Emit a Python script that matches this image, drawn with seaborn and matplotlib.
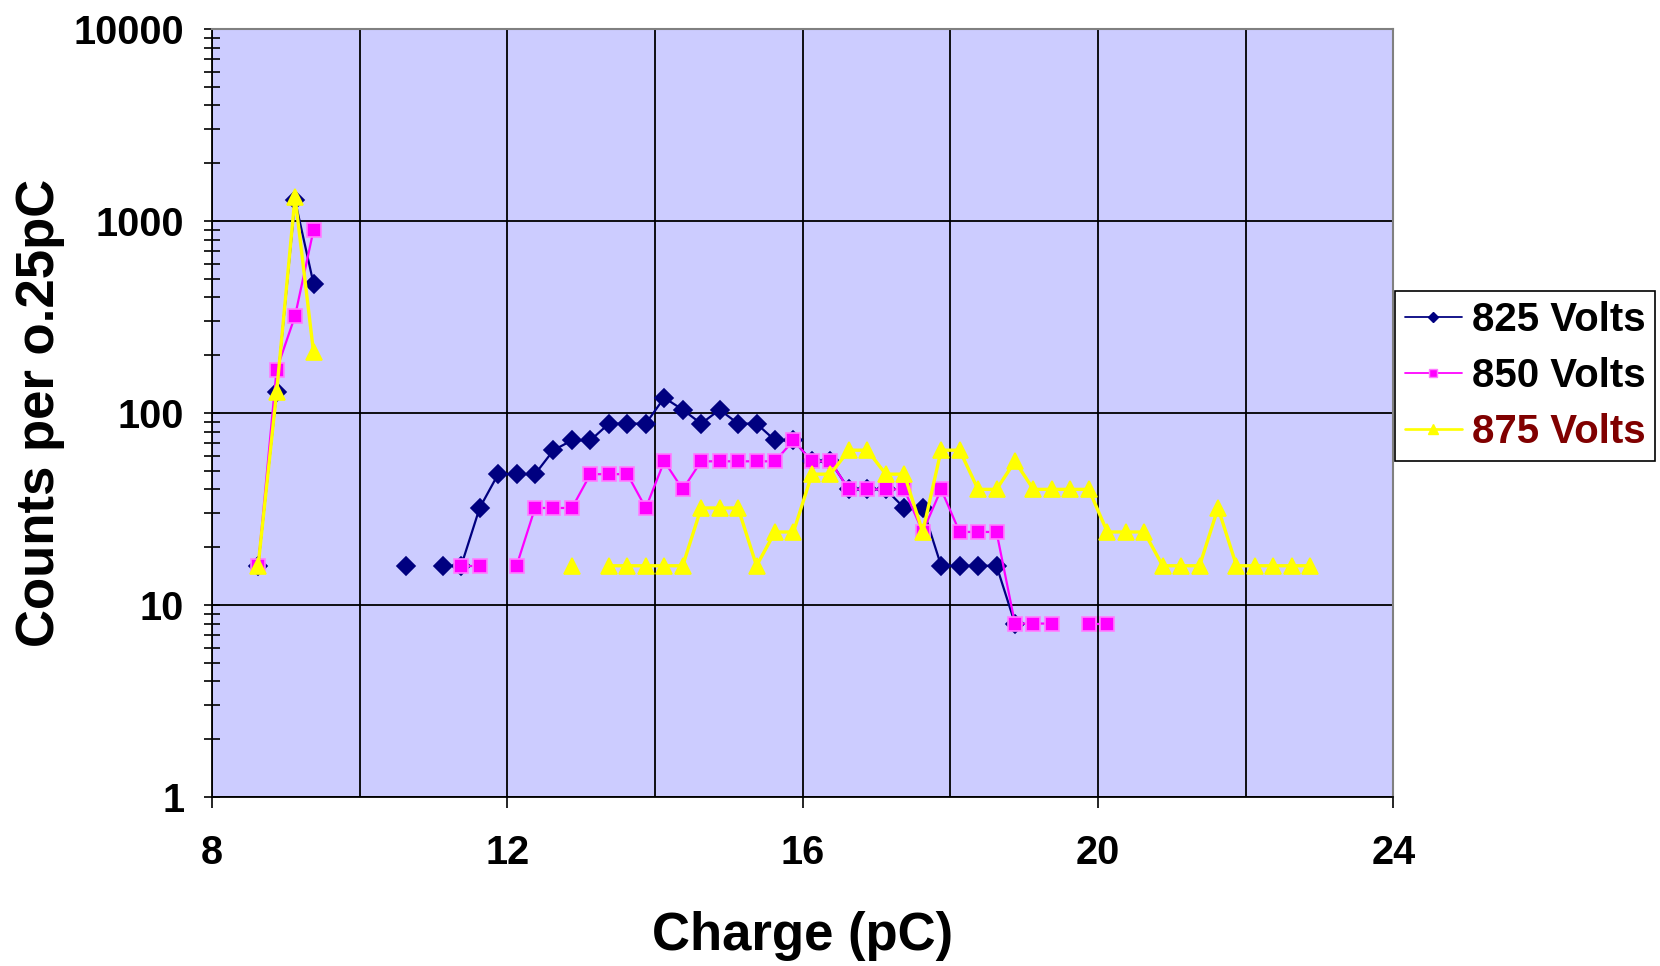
import numpy as np
import pandas as pd
import matplotlib
matplotlib.use('Agg')
import matplotlib.pyplot as plt
import seaborn as sns
from matplotlib.lines import Line2D
from matplotlib.ticker import FixedLocator, LogLocator, NullFormatter, FuncFormatter

# bin centres (pC), 0.25 pC bins
charge = [8.625, 8.875, 9.125, 9.375, 9.625, 9.875, 10.125, 10.375,
          10.625, 10.875, 11.125, 11.375, 11.625, 11.875, 12.125, 12.375,
          12.625, 12.875, 13.125, 13.375, 13.625, 13.875, 14.125, 14.375,
          14.625, 14.875, 15.125, 15.375, 15.625, 15.875, 16.125, 16.375,
          16.625, 16.875, 17.125, 17.375, 17.625, 17.875, 18.125, 18.375,
          18.625, 18.875, 19.125, 19.375, 19.625, 19.875, 20.125, 20.375,
          20.625, 20.875, 21.125, 21.375, 21.625, 21.875, 22.125, 22.375,
          22.625, 22.875]

# counts per bin, None = empty bin
counts_825 = [16, 128, 1280, 472, None, None, None, None,
              16, None, 16, 16, 32, 48, 48, 48,
              64, 72, 72, 88, 88, 88, 120, 104,
              88, 104, 88, 88, 72, 72, 56, 56,
              40, 40, 40, 32, 32, 16, 16, 16,
              16, 8, None, None, None, None, None, None,
              None, None, None, None, None, None, None, None,
              None, None]
counts_850 = [16, 168, 320, 896, None, None, None, None,
              None, None, None, 16, 16, None, 16, 32,
              32, 32, 48, 48, 48, 32, 56, 40,
              56, 56, 56, 56, 56, 72, 56, 56,
              40, 40, 40, 40, 24, 40, 24, 24,
              24, 8, 8, 8, None, 8, 8, None,
              None, None, None, None, None, None, None, None,
              None, None]
counts_875 = [16, 128, 1336, 208, None, None, None, None,
              None, None, None, None, None, None, None, None,
              None, 16, None, 16, 16, 16, 16, 16,
              32, 32, 32, 16, 24, 24, 48, 48,
              64, 64, 48, 48, 24, 64, 64, 40,
              40, 56, 40, 40, 40, 40, 24, 24,
              24, 16, 16, 16, 32, 16, 16, 16,
              16, 16]

series = ['825 Volts', '850 Volts', '875 Volts']
colors = ['#000080', '#FF00FF', '#FFFF00']
markers = ['D', 's', '^']
msizes = [9, 9.5, 11]
edges = ['#000080', '#FF7CFF', '#FFFF00']
lwidths = [1.6, 1.6, 2.4]


def to_frame(values):
    # split into contiguous runs so that empty bins break the line
    df = pd.DataFrame({'charge': charge, 'count': values})
    df['seg'] = df['count'].isnull().cumsum()
    return df.dropna()


sns.set_theme(style='ticks')
plt.rcParams['font.family'] = ['Liberation Sans', 'DejaVu Sans']
plt.rcParams['font.weight'] = 'bold'
plt.rcParams['text.color'] = 'black'
plt.rcParams['axes.labelcolor'] = 'black'
plt.rcParams['xtick.color'] = 'black'
plt.rcParams['ytick.color'] = 'black'

fig = plt.figure(figsize=(16.6, 9.66), dpi=100)
ax = fig.add_axes([0.1277, 0.175, 0.7117, 0.795])
ax.set_facecolor('#CCCCFF')

handles = []
for name, vals, c, m, ms, ec, lw in zip(series, [counts_825, counts_850, counts_875],
                                        colors, markers, msizes, edges, lwidths):
    df = to_frame(vals)
    sns.lineplot(data=df, x='charge', y='count', units='seg', estimator=None,
                 ax=ax, color=c, marker=m, markersize=ms, markeredgecolor=ec,
                 markeredgewidth=1.2, linewidth=lw, legend=False, zorder=3)
    handles.append(Line2D([0], [0], color=c, marker=m, markersize=ms * 0.6,
                          markeredgecolor=ec, linewidth=lw * 0.8, label=name))

ax.set_yscale('log')
ax.set_xlim(8, 24)
ax.set_ylim(1, 10000)

# axes ticks and grid
ax.xaxis.set_major_locator(FixedLocator([8, 12, 16, 20, 24]))
ax.xaxis.set_minor_locator(FixedLocator([10, 14, 18, 22]))
ax.yaxis.set_major_locator(LogLocator(base=10))
ax.yaxis.set_minor_locator(LogLocator(base=10, subs=np.arange(2, 10)))
ax.yaxis.set_major_formatter(FuncFormatter(lambda v, p: f'{v:g}'))
ax.yaxis.set_minor_formatter(NullFormatter())
ax.grid(True, which='major', axis='both', color='black', linewidth=1.3)
ax.grid(True, which='minor', axis='x', color='black', linewidth=1.3)
ax.set_axisbelow(True)

ax.tick_params(axis='both', which='both', direction='out', length=8, width=1.2,
               color='black', labelcolor='black', labelsize=28.5)
ax.tick_params(axis='y', which='both', direction='inout', length=12)
ax.tick_params(axis='x', which='minor', length=0)
ax.tick_params(axis='x', which='major', pad=19)
ax.tick_params(axis='y', which='major', pad=14)
for lab in ax.get_xticklabels() + ax.get_yticklabels():
    lab.set_fontweight('bold')

for side in ['left', 'bottom']:
    ax.spines[side].set_color('black')
    ax.spines[side].set_linewidth(1.3)
for side in ['top', 'right']:
    ax.spines[side].set_color('#808080')
    ax.spines[side].set_linewidth(1.5)

ax.set_xlabel('Charge (pC)', fontsize=38, fontweight='bold', labelpad=28, color='black')
ax.set_ylabel('Counts per o.25pC', fontsize=38, fontweight='bold', labelpad=6, color='black')

leg = ax.legend(handles=handles, loc='upper left', bbox_to_anchor=(1.0015, 0.659),
                borderaxespad=0, prop={'weight': 'bold', 'size': 29}, frameon=True,
                fancybox=False, edgecolor='black', framealpha=1, handlelength=1.4,
                handletextpad=0.25, labelspacing=0.45, borderpad=0.25)
leg.get_frame().set_linewidth(1.2)
for t, tc in zip(leg.get_texts(), ['black', 'black', '#800000']):
    t.set_color(tc)

fig.savefig('out.png', dpi=100, facecolor='white')
